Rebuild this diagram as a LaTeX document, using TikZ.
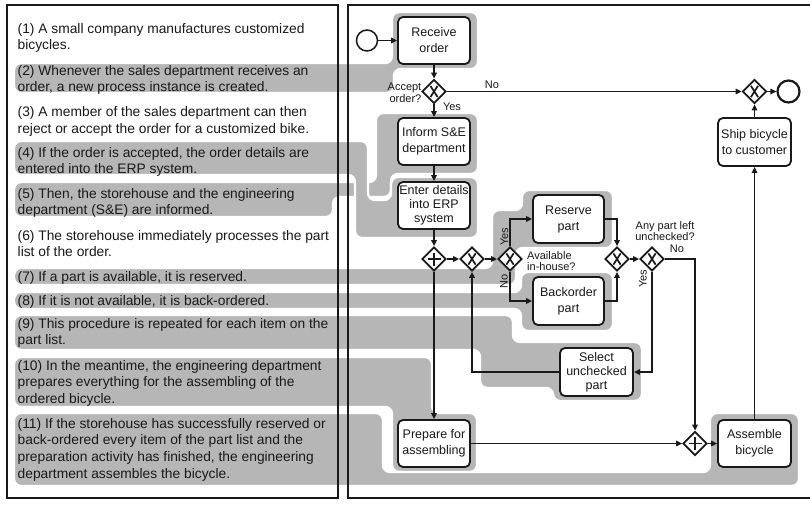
\documentclass[tikz,border=0pt]{standalone}
\usepackage{fontspec}
\setmainfont{Liberation Sans}
\usetikzlibrary{arrows.meta,shapes.geometric}
\definecolor{bandgray}{RGB}{182,182,182}
\definecolor{ink}{RGB}{25,25,25}
\begin{document}
\begin{tikzpicture}[x=1pt,y=-1pt,
  band/.style={fill=bandgray, draw=white, line width=2.4pt, rounded corners=7pt},
  para/.style={anchor=north west, inner sep=0pt, align=left, font=\fontsize{13.8}{16.6}\selectfont, text=ink},
  task/.style={draw=ink, fill=white, line width=1.8pt, rounded corners=5pt, minimum width=72pt, minimum height=47pt, inner sep=1pt, align=center, font=\fontsize{12.5}{16}\selectfont, text=ink},
  gw/.style={diamond, draw=ink, fill=white, line width=1.8pt, minimum width=24pt, minimum height=24pt, inner sep=0pt},
  xorgw/.style={gw, path picture={
    \draw[line width=1.7pt, ink] ([shift={(-3.6pt,-5.6pt)}]path picture bounding box.center) -- ([shift={(3.6pt,5.6pt)}]path picture bounding box.center)
      ([shift={(3.6pt,-5.6pt)}]path picture bounding box.center) -- ([shift={(-3.6pt,5.6pt)}]path picture bounding box.center);}},
  andgw/.style={gw, path picture={
    \draw[line width=1.6pt, ink] ([shift={(-6.5pt,0pt)}]path picture bounding box.center) -- ([shift={(6.5pt,0pt)}]path picture bounding box.center)
      ([shift={(0pt,-6.5pt)}]path picture bounding box.center) -- ([shift={(0pt,6.5pt)}]path picture bounding box.center);}},
  startev/.style={circle, draw=ink, fill=white, line width=1.5pt, minimum size=21pt, inner sep=0pt},
  endev/.style={circle, draw=ink, fill=white, line width=2.2pt, minimum size=22pt, inner sep=0pt},
  arr/.style={draw=ink, line width=1.4pt, -{Triangle[length=6pt,width=5.5pt]}},
  lbl/.style={font=\fontsize{11}{11.5}\selectfont, text=ink, inner sep=0pt},
  frame/.style={draw=ink, line width=1.6pt}
]
\useasboundingbox (0,0) rectangle (810,506);
\fill[white] (0,0) rectangle (810,506);

% highlight bands
\path[band] (14,63) -- (392,63) -- (392,12) -- (478,12) -- (478,69) -- (394,69) -- (394,93) -- (14,93) -- cycle;
\path[band] (14,182) -- (376,182) -- (376,113) -- (478,113) -- (478,174) -- (391,174) -- (391,197) -- (333,197) -- (333,217) -- (14,217) -- cycle;
\path[band] (14,141) -- (368,141) -- (368,200) -- (391,200) -- (391,177) -- (478,177) -- (478,238) -- (355,238) -- (355,175) -- (14,175) -- cycle;
\path[band] (14,268) -- (492,268) -- (492,210) -- (522,210) -- (522,190) -- (613,190) -- (613,248) -- (516,248) -- (516,285) -- (14,285) -- cycle;
\path[band] (14,292) -- (521,292) -- (521,272) -- (613,272) -- (613,331) -- (521,331) -- (521,309) -- (14,309) -- cycle;
\path[band] (14,315) -- (513,315) -- (513,342) -- (642,342) -- (642,401) -- (553,401) -- (553,388) -- (480,388) -- (480,350) -- (14,350) -- cycle;
\path[band] (14,357) -- (432,357) -- (432,413) -- (477,413) -- (477,472) -- (392,472) -- (392,407) -- (14,407) -- cycle;
\path[band] (14,413) -- (383,413) -- (383,472) -- (710,472) -- (710,413) -- (799,413) -- (799,486) -- (14,486) -- cycle;

% frames
\path[frame] (7,5) rectangle (338,498);
\path[frame] (812,5) -- (348,5) -- (348,498) -- (812,498);

% texts
\node[para] (t1) at (17.5,23) {(1) A small company manufactures customized\\bicycles.};
\node[para] (t2) at (17.5,65) {(2) Whenever the sales department receives an\\order, a new process instance is created.};
\node[para] (t3) at (17.5,106.5) {(3) A member of the sales department can then\\reject or accept the order for a customized bike.};
\node[para] (t4) at (17.5,147) {(4) If the order is accepted, the order details are\\entered into the ERP system.};
\node[para] (t5) at (17.5,188) {(5) Then, the storehouse and the engineering\\department (S\&E) are informed.};
\node[para] (t6) at (17.5,230) {(6) The storehouse immediately processes the part\\list of the order.};
\node[para] (t7) at (17.5,271.5) {(7) If a part is available, it is reserved.};
\node[para] (t8) at (17.5,295) {(8) If it is not available, it is back-ordered.};
\node[para] (t9) at (17.5,318) {(9) This procedure is repeated for each item on the\\part list.};
\node[para] (t10) at (17.5,360) {(10) In the meantime, the engineering department\\prepares everything for the assembling of the\\ordered bicycle.};
\node[para] (t11) at (17.5,418) {(11) If the storehouse has successfully reserved or\\back-ordered every item of the part list and the\\preparation activity has finished, the engineering\\department assembles the bicycle.};

% model nodes
\node[startev] (start) at (367,40.5) {};
\node[task] (recv) at (434,40.5) {Receive\\order};
\node[xorgw] (acc) at (434,91.5) {};
\node[task] (inform) at (434,141.5) {Inform S\&E\\department};
\node[task, font=\fontsize{12.5}{14.2}\selectfont] (enter) at (434,205.5) {Enter details\\into ERP\\system};
\node[andgw] (andsplit) at (434,259) {};
\node[xorgw] (xorjoin) at (472,259) {};
\node[xorgw] (avail) at (510,259) {};
\node[task, minimum width=71pt, minimum height=48pt] (reserve) at (568.5,219) {Reserve\\part};
\node[task, minimum width=71pt, minimum height=48pt] (backorder) at (568.5,301) {Backorder\\part};
\node[xorgw] (merge) at (617,259) {};
\node[xorgw] (loop) at (652,259) {};
\node[task, minimum width=73pt, minimum height=48pt, font=\fontsize{12.5}{14.2}\selectfont] (select) at (596.5,372) {Select\\unchecked\\part};
\node[task] (prepare) at (434,443.5) {Prepare for\\assembling};
\node[andgw] (andjoin) at (695,443.5) {};
\node[task, minimum width=73pt] (assemble) at (754.5,443.5) {Assemble\\bicycle};
\node[task, minimum width=73pt, minimum height=48pt] (ship) at (754.5,142) {Ship bicycle\\to customer};
\node[xorgw] (endgw) at (754.5,91.5) {};
\node[endev] (end) at (788.5,91.5) {};

% connectors
\draw[arr] (start) -- (recv);
\draw[arr] (recv) -- (acc);
\draw[arr] (acc) -- (inform);
\draw[arr] (acc) -- (endgw);
\draw[arr] (inform) -- (enter);
\draw[arr] (enter) -- (andsplit);
\draw[arr] (andsplit) -- (xorjoin);
\draw[arr] (xorjoin) -- (avail);
\draw[arr] (avail.north) |- (reserve.west);
\draw[arr] (avail.south) |- (backorder.west);
\draw[arr] (reserve.east) -| (merge.north);
\draw[arr] (backorder.east) -| (merge.south);
\draw[arr] (merge) -- (loop);
\draw[arr] (loop.east) -| (andjoin.north);
\draw[arr] (loop.south) |- (select.east);
\draw[arr] (select.west) -| (xorjoin.south);
\draw[arr] (andsplit.south) -- (prepare.north);
\draw[arr] (prepare) -- (andjoin);
\draw[arr] (andjoin) -- (assemble);
\draw[arr] (assemble) -- (ship);
\draw[arr] (ship) -- (endgw);
\draw[arr] (endgw) -- (end);

% labels
\node[lbl, anchor=east, align=right] (acclbl) at (421.5,93) {Accept\\order?};
\node[lbl] (no1) at (492,85) {No};
\node[lbl] (yes1) at (452,107) {Yes};
\node[lbl, rotate=90] (yes2) at (504.5,237) {Yes};
\node[lbl, rotate=90] (no2) at (504,281) {No};
\node[lbl, anchor=west, align=left] (availlbl) at (527,261) {Available\\in-house?};
\node[lbl, align=center] (looplbl) at (665,231) {Any part left\\unchecked?};
\node[lbl] (no3) at (677,249) {No};
\node[lbl, rotate=90] (yes3) at (643,279) {Yes};
\end{tikzpicture}
\end{document}
